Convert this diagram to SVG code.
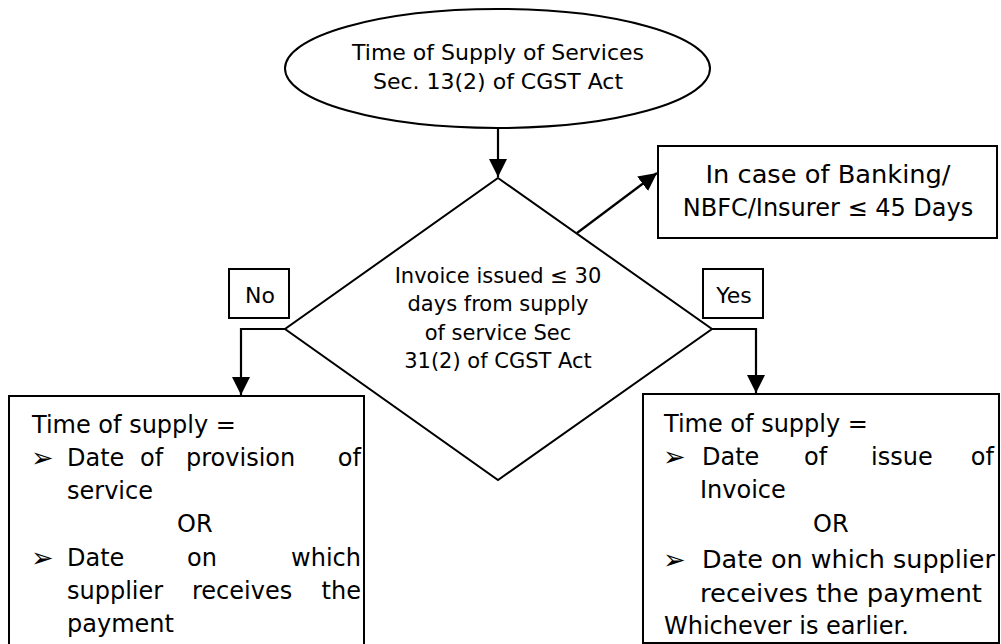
<svg xmlns="http://www.w3.org/2000/svg" width="1001" height="644" viewBox="0 0 1001 644">
<style>
.shape{fill:#fff;stroke:#000;stroke-width:2}
.conn{fill:none;stroke:#000;stroke-width:2.2}
text{font-family:"DejaVu Sans","Liberation Sans",sans-serif;fill:#000}
.t22{font-size:22px}
.t21{font-size:21px}
.t24{font-size:24px}
.mid{text-anchor:middle}
.end{text-anchor:end}
.bul{font-size:27px}
</style>
<defs>
<marker id="arr" markerUnits="userSpaceOnUse" markerWidth="18" markerHeight="18" viewBox="0 0 16 16" refX="16" refY="8" orient="auto">
<path d="M0,0 L16,8 L0,16 Z" fill="#000"/>
</marker>
</defs>
<rect width="1001" height="644" fill="#fff"/>
<g id="connectors">
<line class="conn" x1="498" y1="129" x2="498" y2="177" marker-end="url(#arr)"/>
<line class="conn" x1="577" y1="233" x2="657" y2="173" marker-end="url(#arr)"/>
<polyline class="conn" points="285,329 241,329 241,395" marker-end="url(#arr)"/>
<polyline class="conn" points="712,329 756,329 756,393" marker-end="url(#arr)"/>
</g>
<g id="start">
<ellipse class="shape" cx="497.5" cy="68.5" rx="212.5" ry="59.5"/>
<text class="t22 mid" x="498" y="60">Time of Supply of Services</text>
<text class="t22 mid" x="498" y="89">Sec. 13(2) of CGST Act</text>
</g>
<g id="decision">
<polygon class="shape" points="498,178 712,329 498,480 285,329"/>
<text class="t21 mid" x="498" y="283">Invoice issued ≤ 30</text>
<text class="t21 mid" x="498" y="311">days from supply</text>
<text class="t21 mid" x="498" y="340">of service Sec</text>
<text class="t21 mid" x="498" y="368">31(2) of CGST Act</text>
</g>
<g id="banking">
<rect class="shape" x="658" y="146" width="339" height="92"/>
<text class="t24 mid" x="828" y="183" textLength="245" lengthAdjust="spacingAndGlyphs">In case of Banking/</text>
<text class="t24 mid" x="828" y="216">NBFC/Insurer ≤ 45 Days</text>
</g>
<g id="no-label">
<rect class="shape" x="229" y="269" width="60" height="49"/>
<text class="t22 mid" x="260" y="303">No</text>
</g>
<g id="yes-label">
<rect class="shape" x="703" y="269" width="60" height="49"/>
<text class="t22 mid" x="734" y="303">Yes</text>
</g>
<g id="no-result">
<rect class="shape" x="9" y="396" width="355" height="260"/>
<text class="t24" x="32" y="433">Time of supply =</text>
<text class="bul" x="31" y="467">➢</text>
<text class="t24" x="67" y="466">Date</text>
<text class="t24" x="140" y="466">of</text>
<text class="t24" x="186" y="466">provision</text>
<text class="t24 end" x="361" y="466">of</text>
<text class="t24" x="67" y="499">service</text>
<text class="t24" x="177" y="532">OR</text>
<text class="bul" x="31" y="567">➢</text>
<text class="t24" x="67" y="566">Date</text>
<text class="t24" x="187" y="566">on</text>
<text class="t24 end" x="361" y="566">which</text>
<text class="t24" x="67" y="599">supplier</text>
<text class="t24" x="192" y="599">receives</text>
<text class="t24 end" x="361" y="599">the</text>
<text class="t24" x="67" y="632">payment</text>
</g>
<g id="yes-result">
<rect class="shape" x="643" y="394" width="356" height="249"/>
<text class="t24" x="664" y="432">Time of supply =</text>
<text class="bul" x="663" y="466">➢</text>
<text class="t24" x="702" y="465">Date</text>
<text class="t24" x="804" y="465">of</text>
<text class="t24" x="871" y="465">issue</text>
<text class="t24 end" x="994" y="465">of</text>
<text class="t24" x="700" y="498">Invoice</text>
<text class="t24" x="813" y="532">OR</text>
<text class="bul" x="663" y="569">➢</text>
<text class="t24" x="702" y="568" textLength="293" lengthAdjust="spacingAndGlyphs">Date on which supplier</text>
<text class="t24" x="700" y="602" textLength="282" lengthAdjust="spacingAndGlyphs">receives the payment</text>
<text class="t24" x="664" y="634">Whichever is earlier.</text>
</g>
</svg>
